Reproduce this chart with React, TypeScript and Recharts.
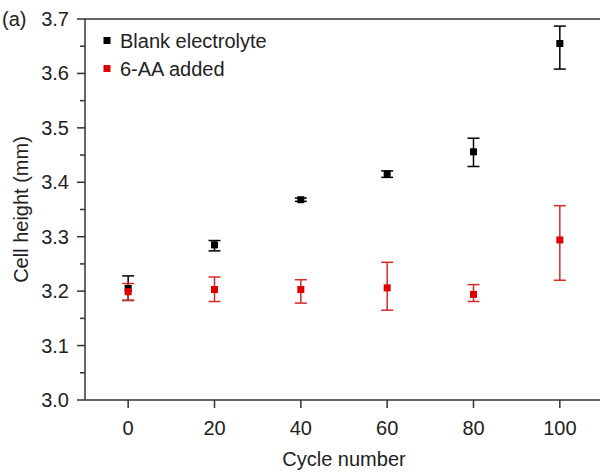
import React from "react";
import {
  ScatterChart,
  Scatter,
  XAxis,
  YAxis,
  ErrorBar,
  ReferenceLine,
  Customized,
  Label,
} from "recharts";

const cycles = [0, 20, 40, 60, 80, 100];
const blankMean = [3.205, 3.285, 3.368, 3.415, 3.456, 3.655];
const blankErr: [number, number][] = [
  [0.022, 0.023],
  [0.011, 0.008],
  [0.003, 0.003],
  [0.006, 0.006],
  [0.027, 0.025],
  [0.047, 0.032],
];
const aaMean = [3.199, 3.203, 3.203, 3.206, 3.194, 3.294];
const aaErr: [number, number][] = [
  [0.016, 0.015],
  [0.022, 0.023],
  [0.025, 0.018],
  [0.041, 0.047],
  [0.013, 0.018],
  [0.074, 0.063],
];
const xTicks = [0, 20, 40, 60, 80, 100];
const yTicks = [3.0, 3.05, 3.1, 3.15, 3.2, 3.25, 3.3, 3.35, 3.4, 3.45, 3.5, 3.55, 3.6, 3.65, 3.7];
const seriesNames = ["Blank electrolyte", "6-AA added"];

const blankData = cycles.map((c, i) => ({ x: c, y: blankMean[i], err: blankErr[i] }));
const aaData = cycles.map((c, i) => ({ x: c, y: aaMean[i], err: aaErr[i] }));

const FONT = "'Liberation Sans', Arial, sans-serif";
const AXIS = "#333";
const BLACK = "#000";
const RED = "#e00000";
const RED_BAR = "#d42a2a";
const TEXT = "#222";

const YTick = (props: any) => {
  const { x, y, payload } = props;
  const v = payload.value;
  const major = Math.abs(v * 10 - Math.round(v * 10)) < 1e-6;
  return (
    <g>
      <line x1={x - (major ? 8 : 5)} x2={x} y1={y} y2={y} stroke={AXIS} strokeWidth={1.5} />
      {major && (
        <text x={x - 16} y={y + 7} textAnchor="end" fontSize={20} fontFamily={FONT} fill={TEXT}>
          {v.toFixed(1)}
        </text>
      )}
    </g>
  );
};

const XTick = (props: any) => {
  const { x, y, payload } = props;
  return (
    <g>
      <line x1={x} x2={x} y1={y} y2={y + 8} stroke={AXIS} strokeWidth={1.5} />
      <text x={x} y={y + 35} textAnchor="middle" fontSize={20} fontFamily={FONT} fill={TEXT}>
        {payload.value}
      </text>
    </g>
  );
};

const Square = (color: string) => (props: any) => {
  const { cx, cy } = props;
  return <rect x={cx - 3.5} y={cy - 3.5} width={7} height={7} fill={color} />;
};

const LegendSvg = () => (
  <g fontFamily={FONT} fontSize={20} fill={TEXT}>
    {seriesNames.map((n, i) => (
      <g key={n}>
        <rect x={103.5} y={37 + i * 28} width={7} height={7} fill={i === 0 ? BLACK : RED} />
        <text x={120} y={47.5 + i * 28}>{n}</text>
      </g>
    ))}
    <text x={2} y={26}>(a)</text>
  </g>
);

export default function App() {
  return (
    <div style={{ position: "absolute", left: 0, top: 0, width: 600, height: 473, overflow: "hidden", background: "#fff" }}>
      <ScatterChart width={620} height={473} margin={{ top: 19, right: 17, bottom: 0, left: 0 }}>
        <XAxis
          type="number"
          dataKey="x"
          domain={[-10, 110]}
          ticks={xTicks}
          allowDataOverflow
          height={73}
          tickSize={0}
          tickMargin={0}
          tickLine={false}
          tick={<XTick />}
          axisLine={{ stroke: AXIS, strokeWidth: 1.5 }}
        >
          <Label
            content={(p: any) => {
              const vb = p.viewBox;
              return (
                <text x={vb.x + vb.width / 2} y={vb.y + 66} textAnchor="middle" fontSize={20} fontFamily={FONT} fill={TEXT}>
                  Cycle number
                </text>
              );
            }}
          />
        </XAxis>
        <YAxis
          type="number"
          dataKey="y"
          domain={[3.0, 3.7]}
          ticks={yTicks}
          allowDataOverflow
          interval={0}
          width={85}
          tickSize={0}
          tickMargin={0}
          tickLine={false}
          tick={<YTick />}
          axisLine={{ stroke: AXIS, strokeWidth: 1.5 }}
        >
          <Label
            content={(p: any) => {
              const vb = p.viewBox;
              const cx = 21;
              const cy = vb.y + vb.height / 2;
              return (
                <text
                  x={cx}
                  y={cy}
                  transform={`rotate(-90 ${cx} ${cy})`}
                  textAnchor="middle"
                  dominantBaseline="central"
                  fontSize={20}
                  fontFamily={FONT}
                  fill={TEXT}
                >
                  Cell height (mm)
                </text>
              );
            }}
          />
        </YAxis>
        <ReferenceLine y={3.7} stroke={AXIS} strokeWidth={1.5} />
        <ReferenceLine x={110} stroke={AXIS} strokeWidth={1.5} />
        <Scatter name={seriesNames[0]} data={blankData} isAnimationActive={false} shape={Square(BLACK)}>
          <ErrorBar dataKey="err" direction="y" width={6} stroke={BLACK} strokeWidth={1.5} />
        </Scatter>
        <Scatter name={seriesNames[1]} data={aaData} isAnimationActive={false} shape={Square(RED)}>
          <ErrorBar dataKey="err" direction="y" width={6} stroke={RED_BAR} strokeWidth={1.5} />
        </Scatter>
        <Customized component={LegendSvg} />
      </ScatterChart>
    </div>
  );
}
